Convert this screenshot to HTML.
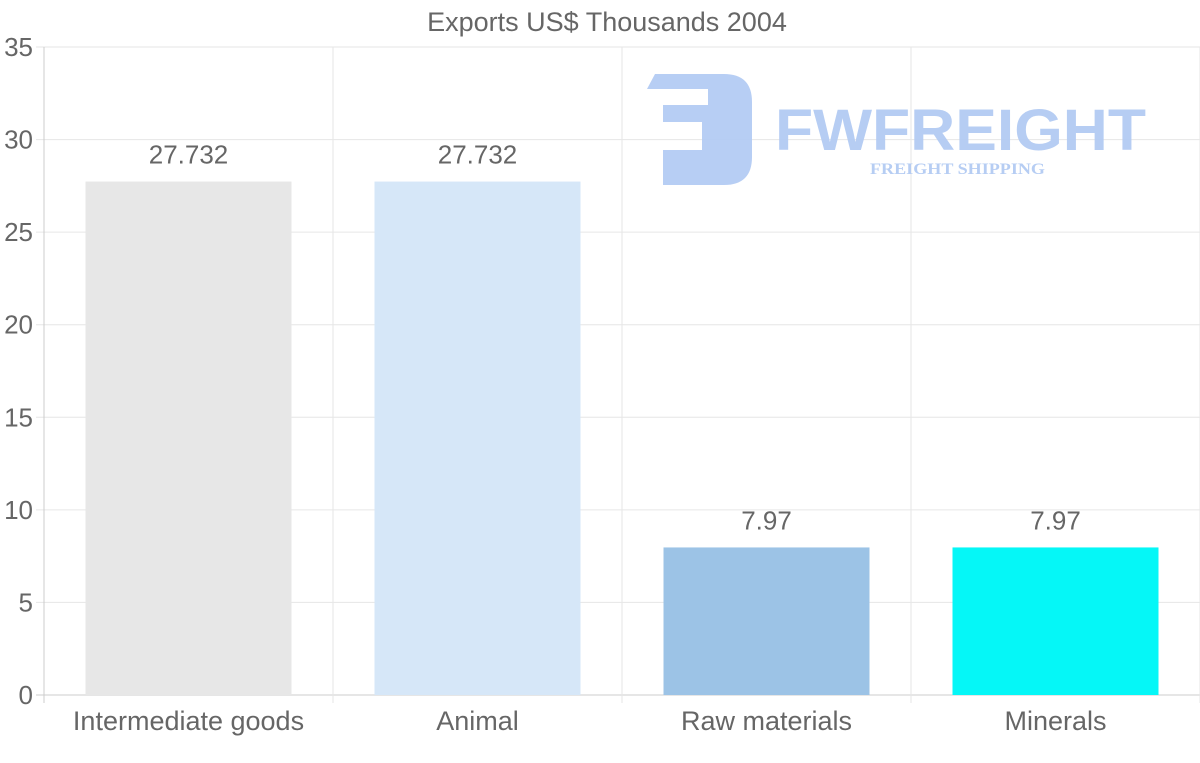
<!DOCTYPE html>
<html><head><meta charset="utf-8">
<style>
html,body{margin:0;padding:0;background:#fff;}
svg{display:block;font-family:"Liberation Sans",sans-serif;}
</style></head>
<body>
<svg id="chart" width="1200" height="763">
  <text x="607" y="31" text-anchor="middle" font-size="27" fill="#666">Exports US$ Thousands 2004</text>
  <g id="grid"></g>
  <g id="logo" opacity="0.95">
    <path d="M655 74 H724 Q752 74 752 102 V157 Q752 185 724 185 H663 V150 H702 V122 H663 V105 H708 V89 H647 Z" fill="#b3cbf3"/>
    <text x="775" y="150" font-size="58" font-weight="bold" fill="#b3cbf3" textLength="371" lengthAdjust="spacingAndGlyphs" font-family="Liberation Sans, sans-serif">FWFREIGHT</text>
    <text x="870" y="174" font-size="16" font-weight="bold" fill="#b3cbf3" textLength="175" lengthAdjust="spacingAndGlyphs" font-family="Liberation Serif, serif">FREIGHT SHIPPING</text>
  </g>
  <g id="bars"></g>
  <g id="axes"></g>
</svg>
<script>
const categories = ["Intermediate goods","Animal","Raw materials","Minerals"];
const values = [27.732, 27.732, 7.97, 7.97];
const valueLabels = ["27.732","27.732","7.97","7.97"];
const yTicks = [0,5,10,15,20,25,30,35];
const colors = ["#e7e7e7","#d6e7f8","#9cc3e6","#05f7f7"];

const NS = "http://www.w3.org/2000/svg";
const L = 44, R = 1200, T = 47, B = 695, yMax = 35;
const y = v => B - (v / yMax) * (B - T);
const band = (R - L) / categories.length;
const xc = i => L + band * (i + 0.5);
function mk(tag, attrs, parent, text) {
  const e = document.createElementNS(NS, tag);
  for (const k in attrs) e.setAttribute(k, attrs[k]);
  if (text !== undefined) e.textContent = text;
  parent.appendChild(e);
  return e;
}
const grid = document.getElementById("grid");
const bars = document.getElementById("bars");
const axes = document.getElementById("axes");

yTicks.forEach(t => {
  const gl = mk("line", {x1: 36, x2: R, y1: y(t), y2: y(t), stroke: t === 0 ? "#ccc" : "#e6e6e6", "stroke-width": 1}, grid);
  
  
  const lb = mk("text", {x: 33, y: y(t) + 9, "text-anchor": "end", "font-size": 26, fill: "#666"}, axes, String(t));
  
  
});
for (let i = 0; i <= categories.length; i++) {
  const x = L + band * i;
  const vl = mk("line", {x1: x, x2: x, y1: T, y2: B + 8, stroke: i === 0 ? "#ccc" : "#e6e6e6", "stroke-width": 1}, grid);
  
  
}
categories.forEach((c, i) => {
  const w = 206;
  const r = mk("rect", {x: xc(i) - w / 2, y: y(values[i]), width: w, height: B - y(values[i]), fill: colors[i]}, bars);
  
  
  const vt = mk("text", {x: xc(i), y: y(values[i]) - 18, "text-anchor": "middle", "font-size": 26, fill: "#666"}, bars, valueLabels[i]);
  
  
  const xt = mk("text", {x: xc(i), y: 730, "text-anchor": "middle", "font-size": 27, fill: "#666"}, axes, c);
  
  
});
</script>
</body></html>
